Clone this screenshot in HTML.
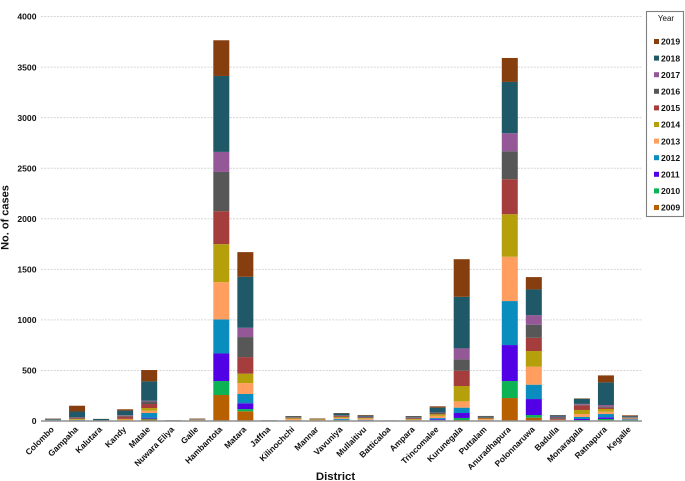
<!DOCTYPE html>
<html>
<head>
<meta charset="utf-8">
<title>Cases by district and year</title>
<style>
html,body{margin:0;padding:0;background:#fff;}
svg{display:block;font-family:"Liberation Sans",sans-serif;filter:blur(0.3px);}
text{fill:#111;}
</style>
</head>
<body>
<svg id="chart" width="685" height="481" viewBox="0 0 685 481" xmlns="http://www.w3.org/2000/svg"></svg>
<script>
const districts = ["Colombo","Gampaha","Kalutara","Kandy","Matale","Nuwara Eliya","Galle","Hambantota","Matara","Jaffna","Kilinochchi","Mannar","Vavuniya","Mullaitivu","Batticaloa","Ampara","Trincomalee","Kurunegala","Puttalam","Anuradhapura","Polonnaruwa","Badulla","Monaragala","Ratnapura","Kegalle"];
const years = ["2009","2010","2011","2012","2013","2014","2015","2016","2017","2018","2019"];
const yearColors = ["#b86000","#0cb354","#5200e6","#0a8dbe","#ff9e5e","#b5a00c","#a63d3d","#575757","#945896","#1f5866","#873e0e"];
const yTicks = [0,500,1000,1500,2000,2500,3000,3500,4000];
const v2009 = [1,3,0,3,16,1,1,257,96,0,3,1,8,3,0,2,6,10,3,227,33,2,5,8,1];
const v2010 = [5,2,1,1,8,0,1,138,22,1,1,1,2,2,0,1,2,20,1,168,26,1,5,12,12];
const v2011 = [1,2,0,1,9,0,0,273,57,0,1,0,2,2,0,1,9,49,1,356,158,1,10,16,3];
const v2012 = [2,3,1,1,46,1,1,337,92,1,2,1,10,5,1,3,12,53,2,435,142,2,20,33,3];
const v2013 = [1,3,1,9,23,1,3,368,108,1,12,6,8,11,1,5,22,62,11,438,178,4,29,23,3];
const v2014 = [1,7,1,6,26,1,6,376,93,0,8,6,9,6,1,7,15,152,7,421,155,3,40,27,4];
const v2015 = [1,6,1,22,40,1,2,326,164,1,5,2,9,5,1,8,8,151,5,346,131,9,46,13,6];
const v2016 = [1,10,1,10,26,1,3,388,198,1,3,2,6,5,1,6,6,113,3,277,129,13,6,10,3];
const v2017 = [1,3,0,4,6,0,1,198,92,0,2,1,3,4,0,3,2,108,2,178,95,8,8,16,3];
const v2018 = [8,55,14,46,192,1,3,751,504,2,8,2,18,10,1,9,50,510,11,507,254,13,51,224,10];
const v2019 = [3,57,1,13,112,1,4,353,244,0,4,4,4,6,0,4,13,372,4,237,122,3,4,69,8];
const seriesValues = [v2009,v2010,v2011,v2012,v2013,v2014,v2015,v2016,v2017,v2018,v2019];

const NS = "http://www.w3.org/2000/svg";
const svg = document.getElementById("chart");
const plotLeft = 41, plotRight = 642, plotBase = 421, plotTop = 16.5, yMax = 4000;
function yScale(v){ return plotBase - (v / yMax) * (plotBase - plotTop); }
function xBand(i){ return plotLeft + (i + 0.5) * (plotRight - plotLeft) / districts.length; }
function mk(tag, attrs, parent, txt){
  const el = document.createElementNS(NS, tag);
  for (const k in attrs) el.setAttribute(k, attrs[k]);
  if (txt !== undefined) el.textContent = txt;
  (parent || svg).appendChild(el);
  return el;
}

yTicks.forEach(function(t){
  if (t > 0) {
    const grid = mk("line", {x1:plotLeft, x2:plotRight, y1:yScale(t), y2:yScale(t), stroke:"#d6d6d6", "stroke-width":1, "stroke-dasharray":"2 1.2"});
    
    
  }
  const lab = mk("text", {x:36.5, y:yScale(t)+3.2, "text-anchor":"end", "font-size":"8.6px", "font-weight":"bold"}, svg, String(t));
  
  
});

const barWidth = 16;
districts.forEach(function(d, i){
  let cum = 0;
  const group = mk("g", {});
  
  
  years.forEach(function(y, s){
    const val = seriesValues[s][i];
    const top = yScale(cum + val), bottom = yScale(cum);
    const seg = mk("rect", {x:xBand(i)-barWidth/2, y:top, width:barWidth, height:Math.max(0,bottom-top), fill:yearColors[s]}, group);
    
    
    cum += val;
  });
  const cx = xBand(i) + 1.5, cy = 430;
  const lab = mk("text", {x:cx, y:cy, "text-anchor":"end", "font-size":"8.4px", "font-weight":"bold", transform:"rotate(-45 "+cx+" "+cy+")"}, svg, d);
  
  
});

const axis = mk("line", {x1:plotLeft, x2:plotRight, y1:plotBase, y2:plotBase, stroke:"#8f8f8f", "stroke-width":1.4});



const xTitle = mk("text", {x:335.5, y:480, "text-anchor":"middle", "font-size":"11.4px", "font-weight":"bold"}, svg, "District");


const yTitle = mk("text", {x:8.5, y:217.5, "text-anchor":"middle", "font-size":"11px", "font-weight":"bold", transform:"rotate(-90 8.5 217.5)"}, svg, "No. of cases");



const legend = mk("g", {});


const legendBox = mk("rect", {x:646.5, y:11.5, width:37, height:205, fill:"#fff", stroke:"#808080", "stroke-width":1.1}, legend);


const legendTitle = mk("text", {x:666, y:21, "text-anchor":"middle", "font-size":"8px"}, legend, "Year");


years.slice().reverse().forEach(function(y, k){
  const s = years.length - 1 - k;
  const ly = 41.5 + k * 16.6;
  const sw = mk("rect", {x:654, y:ly-2.5, width:5, height:5, fill:yearColors[s]}, legend);
  
  
  const t = mk("text", {x:661, y:ly+3.2, "font-size":"8.6px", "font-weight":"bold"}, legend, y);
  
  
});
</script>
</body>
</html>
